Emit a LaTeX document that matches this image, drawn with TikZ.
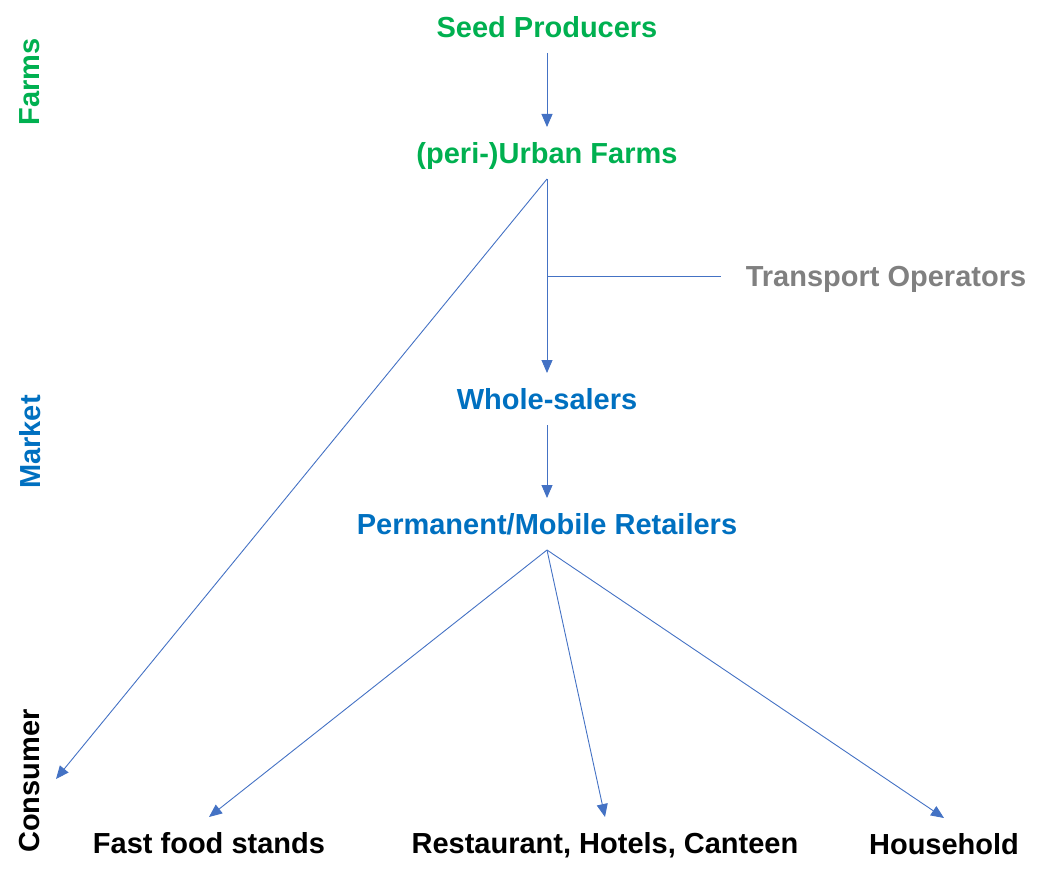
\documentclass[tikz,border=0pt]{standalone}
\usepackage{fontspec}
\setmainfont{Liberation Sans}
\usetikzlibrary{arrows.meta}
\definecolor{cgreen}{HTML}{00B050}
\definecolor{cblue}{HTML}{0070C0}
\definecolor{cgray}{HTML}{808080}
\definecolor{cline}{HTML}{4472C4}
\begin{document}
\begin{tikzpicture}[x=1pt,y=-1pt,
  lbl/.style={font=\fontsize{29}{34}\selectfont\bfseries, inner sep=0pt, text height=21pt, text depth=0pt, outer ysep=15.5pt},
  side/.style={font=\fontsize{29}{34}\selectfont\bfseries, inner sep=0pt, rotate=90},
  conn/.style={cline, line width=0.9pt, -{Triangle[length=13pt,width=11pt]}},
  plain/.style={cline, line width=0.9pt}]
\useasboundingbox (0,0) rectangle (1045,880);
\node[lbl, text=cgreen] (seed) at (547,27) {Seed Producers};
\node[lbl, text=cgreen] (urban) at (547,153) {(peri-)Urban Farms};
\node[lbl, text=cgray, outer xsep=25pt] (transport) at (886,276) {Transport Operators};
\node[lbl, text=cblue] (whole) at (547,399) {Whole-salers};
\node[lbl, text=cblue] (ret) at (547,524) {Permanent/Mobile Retailers};
\node[lbl] (fast) at (209,843) {Fast food stands};
\node[lbl] (rest) at (605,843) {Restaurant, Hotels, Canteen};
\node[lbl] (house) at (944,844) {Household};
\node[side, text=cgreen] (farms) at (30,82) {Farms};
\node[side, text=cblue] (market) at (30,442) {Market};
\node[side] (consumer) at (30,781) {Consumer};
\coordinate (ctip) at (56,779);
\draw[conn] (seed.south) -- (urban.north);
\draw[conn] (urban.south) -- (whole.north);
\draw[plain] (transport.west) -- (transport.west -| urban);
\draw[conn] (urban.south) -- (ctip);
\draw[conn] (whole.south) -- (ret.north);
\draw[conn] (ret.south) -- (fast.north);
\draw[conn] (ret.south) -- (rest.north);
\draw[conn] (ret.south) -- (house.north);
\end{tikzpicture}
\end{document}
